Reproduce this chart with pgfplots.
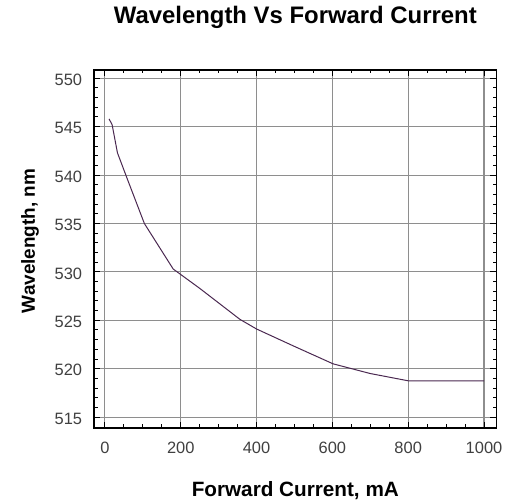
\documentclass[border=0pt]{standalone}
\usepackage{pgfplots}
\pgfplotsset{compat=1.18}
\usepackage{fontspec}
\setmainfont{Liberation Sans}
\definecolor{curve}{HTML}{4A2850}
\definecolor{gridc}{HTML}{8E8E8E}
\begin{document}
\begin{tikzpicture}
\path[use as bounding box] (-94.3bp,-74bp) rectangle (416bp,428bp);
\begin{axis}[
  at={(0,0)}, anchor=south west,
  scale only axis, width=402.4bp, height=358bp,
  xmin=-28.2, xmax=1032.7, ymin=513.9, ymax=550.86,
  xtick={0,200,...,1000}, ytick={515,520,...,550},
  minor x tick num=3, minor y tick num=4,
  tick align=inside,
  major tick length=6bp, minor tick length=3.5bp,
  every tick/.style={black, line width=1bp},
  axis line style={black, line width=1.6bp},
  grid=major,
  major grid style={gridc, line width=1.1bp},
  /pgf/number format/assume math mode=true,
  /pgf/number format/1000 sep={},
  xticklabel style={font=\fontsize{16.5}{16.5}\selectfont, text=black!75, anchor=base, yshift=-26bp},
  yticklabel style={font=\fontsize{16.5}{16.5}\selectfont, text=black!75, anchor=east, inner sep=0pt, xshift=-12bp, yshift=-1.5bp},
  title={Wavelength Vs Forward Current},
  title style={font=\fontsize{24}{24}\selectfont\bfseries, at={(axis description cs:0.5,1)}, anchor=base, yshift=41bp},
  xlabel={Forward Current, mA},
  xlabel style={font=\fontsize{20.8}{20.8}\selectfont\bfseries, at={(axis description cs:0.5,0)}, anchor=base, yshift=-69bp},
  ylabel={Wavelength, nm},
  ylabel style={font=\fontsize{19}{19}\selectfont\bfseries, at={(axis description cs:0,0.522)}, anchor=base, yshift=59.5bp},
]
\addplot[curve, line width=1bp] coordinates {
  (11,545.8) (19,545.2) (33,542.3) (60,539.5) (104,535.0) (180,530.3)
  (250,528.3) (356,525.1) (400,524.1) (500,522.3) (602,520.5)
  (700,519.5) (800,518.75) (1000,518.75)
};
\end{axis}
\end{tikzpicture}
\end{document}
